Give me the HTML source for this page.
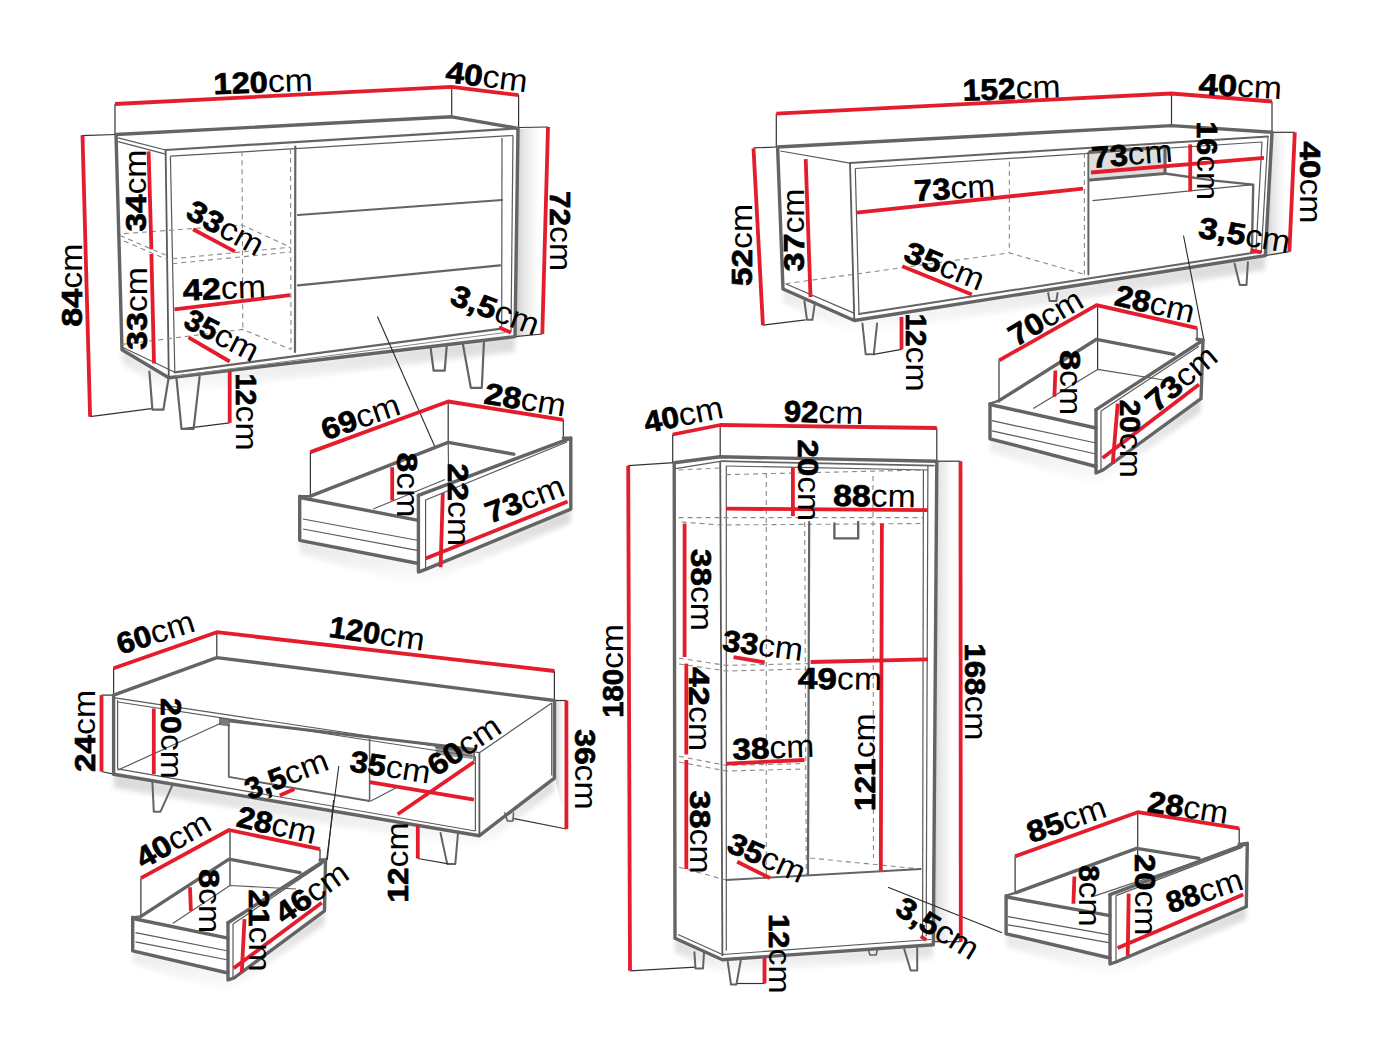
<!DOCTYPE html>
<html><head><meta charset="utf-8"><style>
html,body{margin:0;padding:0;background:#fff;}
svg{display:block;}
text{font-family:"Liberation Sans",sans-serif;fill:#000;}
</style></head><body>
<svg width="1394" height="1045" viewBox="0 0 1394 1045">
<defs><linearGradient id="sg" x1="0" y1="0" x2="1" y2="0"><stop offset="0" stop-color="#000" stop-opacity="1"/><stop offset="0.25" stop-color="#000" stop-opacity="0.45"/><stop offset="0.7" stop-color="#000" stop-opacity="0"/></linearGradient><linearGradient id="sv" x1="0" y1="0" x2="0" y2="1"><stop offset="0" stop-color="#000" stop-opacity="1"/><stop offset="1" stop-color="#000" stop-opacity="0"/></linearGradient><filter id="bl" x="-10%" y="-50%" width="120%" height="200%"><feGaussianBlur stdDeviation="2.5"/></filter></defs>
<polygon points="1090.0,152.0 1165.0,147.0 1165.0,173.5 1090.0,180.0" fill="#dedede"/>
<polygon points="219.0,717.5 230.0,719.0 230.0,726.5 219.0,725.0" fill="#7a7a7a"/>
<polygon points="435.8,747.5 472.6,752.0 472.6,759.0 435.8,754.5" fill="#9a9a9a"/>
<polygon points="518.5,129.0 548.0,127.0 542.3,334.0 515.0,336.6" fill="url(#sg)" opacity="0.22"/>
<polygon points="1272.5,133.0 1294.8,132.3 1289.4,251.6 1265.3,255.6" fill="url(#sg)" opacity="0.22"/>
<polygon points="937.5,462.0 960.5,461.2 960.8,941.7 932.0,941.7" fill="url(#sg)" opacity="0.22"/>
<polygon points="555.0,701.0 566.4,700.5 567.5,829.0 555.0,778.0" fill="url(#sg)" opacity="0.22"/>
<polygon points="122.0,350.0 168.8,378.0 515.0,337.0 515.0,352.0 168.8,394.0 122.0,364.0" fill="url(#sv)" opacity="0.16" filter="url(#bl)"/>
<polygon points="783.0,289.0 854.3,320.5 1265.3,255.6 1265.0,270.0 854.0,336.0 783.0,303.0" fill="url(#sv)" opacity="0.16" filter="url(#bl)"/>
<polygon points="675.4,939.0 722.4,960.0 933.3,945.0 933.0,959.0 722.0,975.0 675.0,953.0" fill="url(#sv)" opacity="0.16" filter="url(#bl)"/>
<polygon points="113.6,774.2 479.4,835.7 554.4,778.1 554.0,792.0 479.0,850.0 113.6,788.0" fill="url(#sv)" opacity="0.16" filter="url(#bl)"/>
<polygon points="299.7,540.3 418.4,563.5 418.4,572.1 570.8,509.1 570.8,523.0 418.0,587.0 299.7,554.0" fill="url(#sv)" opacity="0.16" filter="url(#bl)"/>
<polygon points="990.0,438.8 1096.0,466.5 1096.0,473.0 1201.0,398.6 1201.0,412.0 1096.0,487.0 990.0,452.0" fill="url(#sv)" opacity="0.16" filter="url(#bl)"/>
<polygon points="132.7,950.9 228.0,973.0 228.0,980.0 324.5,910.9 324.5,924.0 228.0,994.0 132.7,964.0" fill="url(#sv)" opacity="0.16" filter="url(#bl)"/>
<polygon points="1006.1,933.8 1110.0,958.0 1110.0,964.0 1246.3,906.7 1246.0,920.0 1110.0,978.0 1006.0,947.0" fill="url(#sv)" opacity="0.16" filter="url(#bl)"/>
<polyline points="115.0,104.0 115.0,134.5" fill="none" stroke="#333" stroke-width="1.2" stroke-linejoin="round"/>
<polyline points="451.7,87.0 451.7,117.0" fill="none" stroke="#333" stroke-width="1.2" stroke-linejoin="round"/>
<polyline points="518.6,95.0 518.6,128.0" fill="none" stroke="#333" stroke-width="1.2" stroke-linejoin="round"/>
<polyline points="81.5,135.6 116.0,134.5" fill="none" stroke="#333" stroke-width="1.2" stroke-linejoin="round"/>
<polyline points="518.6,127.5 548.0,127.0" fill="none" stroke="#333" stroke-width="1.2" stroke-linejoin="round"/>
<polyline points="542.3,334.0 515.0,336.6" fill="none" stroke="#333" stroke-width="1.2" stroke-linejoin="round"/>
<polyline points="90.1,416.7 151.4,408.7" fill="none" stroke="#333" stroke-width="1.2" stroke-linejoin="round"/>
<polyline points="181.5,428.8 229.7,422.8" fill="none" stroke="#333" stroke-width="1.2" stroke-linejoin="round"/>
<polyline points="116.0,134.5 451.7,116.8 518.0,128.3 515.0,336.6 168.8,377.7 122.0,349.7 116.0,134.5" fill="none" stroke="#646464" stroke-width="3.4" stroke-linejoin="round" stroke-linecap="round"/>
<polyline points="118.1,137.8 165.6,150.0" fill="none" stroke="#5a5a5a" stroke-width="1.2" stroke-linejoin="round"/>
<polyline points="118.1,141.6 165.6,154.2" fill="none" stroke="#5a5a5a" stroke-width="1.2" stroke-linejoin="round"/>
<polyline points="165.6,150.0 518.0,128.3" fill="none" stroke="#646464" stroke-width="2.2" stroke-linejoin="round" stroke-linecap="round"/>
<polyline points="170.4,156.2 513.0,135.5" fill="none" stroke="#5a5a5a" stroke-width="1.2" stroke-linejoin="round"/>
<polyline points="165.6,150.0 168.8,377.7" fill="none" stroke="#5a5a5a" stroke-width="1.8" stroke-linejoin="round"/>
<polyline points="170.4,156.2 174.8,372.3" fill="none" stroke="#5a5a5a" stroke-width="1.2" stroke-linejoin="round"/>
<polyline points="123.0,347.5 174.8,372.3" fill="none" stroke="#5a5a5a" stroke-width="1.2" stroke-linejoin="round"/>
<polyline points="174.8,372.3 501.7,328.6" fill="none" stroke="#646464" stroke-width="2.2" stroke-linejoin="round" stroke-linecap="round"/>
<polyline points="176.0,376.0 505.0,332.5" fill="none" stroke="#888" stroke-width="1.0" stroke-linejoin="round"/>
<polyline points="502.0,138.0 501.7,328.6" fill="none" stroke="#5a5a5a" stroke-width="1.2" stroke-linejoin="round"/>
<polyline points="513.0,135.5 511.0,332.0" fill="none" stroke="#5a5a5a" stroke-width="1.2" stroke-linejoin="round"/>
<polyline points="295.3,146.5 295.0,352.0" fill="none" stroke="#646464" stroke-width="2.2" stroke-linejoin="round" stroke-linecap="round"/>
<polyline points="242.0,151.3 242.8,330.4" fill="none" stroke="#8a8a8a" stroke-width="1.1" stroke-dasharray="5,4"/>
<polyline points="290.5,149.0 291.0,349.5" fill="none" stroke="#8a8a8a" stroke-width="1.1" stroke-dasharray="5,4"/>
<polyline points="120.0,235.6 165.6,255.0" fill="none" stroke="#8a8a8a" stroke-width="1.1" stroke-dasharray="5,4"/>
<polyline points="124.0,241.0 168.0,260.0" fill="none" stroke="#8a8a8a" stroke-width="1.1" stroke-dasharray="5,4"/>
<polyline points="124.0,233.6 242.0,225.0 290.5,247.2" fill="none" stroke="#8a8a8a" stroke-width="1.1" stroke-dasharray="5,4"/>
<polyline points="172.3,258.8 290.5,247.2" fill="none" stroke="#8a8a8a" stroke-width="1.1" stroke-dasharray="5,4"/>
<polyline points="172.3,263.7 290.5,252.0" fill="none" stroke="#8a8a8a" stroke-width="1.1" stroke-dasharray="5,4"/>
<polyline points="122.3,344.4 242.8,329.4 291.0,349.5" fill="none" stroke="#8a8a8a" stroke-width="1.1" stroke-dasharray="5,4"/>
<polyline points="298.0,215.0 502.0,200.0" fill="none" stroke="#646464" stroke-width="2.2" stroke-linejoin="round" stroke-linecap="round"/>
<polyline points="298.0,285.4 500.0,265.3" fill="none" stroke="#646464" stroke-width="2.2" stroke-linejoin="round" stroke-linecap="round"/>
<polyline points="149.4,371.6 152.4,409.7 163.4,409.7 168.5,378.6" fill="none" stroke="#646464" stroke-width="2.2" stroke-linejoin="round" stroke-linecap="round"/>
<polyline points="176.5,378.6 181.5,428.8 193.6,428.8 199.6,376.6" fill="none" stroke="#646464" stroke-width="2.2" stroke-linejoin="round" stroke-linecap="round"/>
<polyline points="430.6,347.6 433.6,370.7 444.7,370.7 446.7,346.6" fill="none" stroke="#646464" stroke-width="2.2" stroke-linejoin="round" stroke-linecap="round"/>
<polyline points="462.8,343.6 470.8,387.8 481.8,387.8 483.9,342.6" fill="none" stroke="#646464" stroke-width="2.2" stroke-linejoin="round" stroke-linecap="round"/>
<polyline points="377.4,316.5 435.0,447.0" fill="none" stroke="#2a2a2a" stroke-width="1.1"/>
<polyline points="310.4,452.0 310.4,496.2" fill="none" stroke="#333" stroke-width="1.2" stroke-linejoin="round"/>
<polyline points="448.2,401.5 448.2,442.4" fill="none" stroke="#333" stroke-width="1.2" stroke-linejoin="round"/>
<polyline points="448.2,442.4 449.0,500.0" fill="none" stroke="#5a5a5a" stroke-width="1.2" stroke-linejoin="round"/>
<polyline points="563.3,419.8 563.3,438.1" fill="none" stroke="#333" stroke-width="1.2" stroke-linejoin="round"/>
<polyline points="310.4,496.2 448.2,442.4 513.8,454.2" fill="none" stroke="#646464" stroke-width="3.4" stroke-linejoin="round" stroke-linecap="round"/>
<polyline points="299.7,496.2 310.4,496.2" fill="none" stroke="#646464" stroke-width="2.2" stroke-linejoin="round" stroke-linecap="round"/>
<polyline points="299.7,496.2 299.7,540.3 418.4,563.5" fill="none" stroke="#646464" stroke-width="3.4" stroke-linejoin="round" stroke-linecap="round"/>
<polyline points="300.0,497.5 418.4,520.4" fill="none" stroke="#646464" stroke-width="3.4" stroke-linejoin="round" stroke-linecap="round"/>
<polyline points="303.0,519.0 418.4,540.5" fill="none" stroke="#5a5a5a" stroke-width="1.2" stroke-linejoin="round"/>
<polyline points="303.0,529.0 418.4,550.6" fill="none" stroke="#5a5a5a" stroke-width="1.2" stroke-linejoin="round"/>
<polyline points="373.2,509.0 445.0,479.5" fill="none" stroke="#5a5a5a" stroke-width="1.2" stroke-linejoin="round"/>
<polyline points="418.4,495.3 418.4,572.1 425.6,569.4 570.8,509.1 570.8,438.1 563.3,438.1" fill="none" stroke="#646464" stroke-width="3.4" stroke-linejoin="round" stroke-linecap="round"/>
<polyline points="418.4,495.3 570.8,438.1" fill="none" stroke="#646464" stroke-width="3.4" stroke-linejoin="round" stroke-linecap="round"/>
<polyline points="425.6,500.0 425.6,569.4" fill="none" stroke="#5a5a5a" stroke-width="1.2" stroke-linejoin="round"/>
<polyline points="425.6,500.0 567.0,442.0" fill="none" stroke="#5a5a5a" stroke-width="1.2" stroke-linejoin="round"/>
<polyline points="776.3,113.6 776.3,147.0" fill="none" stroke="#333" stroke-width="1.2" stroke-linejoin="round"/>
<polyline points="1171.5,93.5 1171.5,125.6" fill="none" stroke="#333" stroke-width="1.2" stroke-linejoin="round"/>
<polyline points="1272.0,101.5 1272.0,132.3" fill="none" stroke="#333" stroke-width="1.2" stroke-linejoin="round"/>
<polyline points="753.5,147.9 777.6,147.0" fill="none" stroke="#333" stroke-width="1.2" stroke-linejoin="round"/>
<polyline points="1272.0,132.3 1294.8,132.3" fill="none" stroke="#333" stroke-width="1.2" stroke-linejoin="round"/>
<polyline points="1265.3,255.6 1289.4,251.6" fill="none" stroke="#333" stroke-width="1.2" stroke-linejoin="round"/>
<polyline points="762.9,325.2 805.7,319.8" fill="none" stroke="#333" stroke-width="1.2" stroke-linejoin="round"/>
<polyline points="777.6,147.0 1171.5,125.6 1272.0,132.3 1265.3,255.6 854.3,320.5 783.0,289.0 777.6,147.0" fill="none" stroke="#646464" stroke-width="3.4" stroke-linejoin="round" stroke-linecap="round"/>
<polyline points="780.3,151.0 850.0,163.1" fill="none" stroke="#5a5a5a" stroke-width="1.2" stroke-linejoin="round"/>
<polyline points="850.0,163.1 1268.0,136.4" fill="none" stroke="#646464" stroke-width="2.0" stroke-linejoin="round" stroke-linecap="round"/>
<polyline points="855.3,168.5 1262.0,142.0" fill="none" stroke="#5a5a5a" stroke-width="1.2" stroke-linejoin="round"/>
<polyline points="850.0,163.1 854.3,320.2" fill="none" stroke="#5a5a5a" stroke-width="1.8" stroke-linejoin="round"/>
<polyline points="855.3,168.5 859.0,314.0" fill="none" stroke="#5a5a5a" stroke-width="1.2" stroke-linejoin="round"/>
<polyline points="785.6,283.7 854.0,313.1" fill="none" stroke="#5a5a5a" stroke-width="1.2" stroke-linejoin="round"/>
<polyline points="859.0,314.0 1261.3,251.6" fill="none" stroke="#646464" stroke-width="2.0" stroke-linejoin="round" stroke-linecap="round"/>
<polyline points="1268.0,136.4 1261.3,252.9" fill="none" stroke="#5a5a5a" stroke-width="1.2" stroke-linejoin="round"/>
<polyline points="1262.0,142.0 1256.0,250.0" fill="none" stroke="#5a5a5a" stroke-width="1.2" stroke-linejoin="round"/>
<polyline points="785.6,283.7 1009.3,252.9 1084.4,274.4" fill="none" stroke="#8a8a8a" stroke-width="1.1" stroke-dasharray="5,4"/>
<polyline points="1009.4,161.8 1009.3,252.9" fill="none" stroke="#8a8a8a" stroke-width="1.1" stroke-dasharray="5,4"/>
<polyline points="1084.4,153.0 1084.4,274.4" fill="none" stroke="#8a8a8a" stroke-width="1.1" stroke-dasharray="5,4"/>
<polyline points="1088.4,152.4 1088.4,274.4" fill="none" stroke="#646464" stroke-width="2.0" stroke-linejoin="round" stroke-linecap="round"/>
<polyline points="1090.0,151.5 1165.0,147.0 1165.0,173.5 1090.0,180.0" fill="none" stroke="#646464" stroke-width="3.2" stroke-linejoin="round" stroke-linecap="round"/>
<polyline points="1165.0,173.5 1214.4,180.6 1253.2,184.6 1251.9,252.9" fill="none" stroke="#646464" stroke-width="2.4" stroke-linejoin="round" stroke-linecap="round"/>
<polyline points="1092.5,200.7 1253.2,184.6" fill="none" stroke="#5a5a5a" stroke-width="1.2" stroke-linejoin="round"/>
<polyline points="804.4,301.0 807.0,319.8 812.4,319.8 815.0,302.4" fill="none" stroke="#646464" stroke-width="2.0" stroke-linejoin="round" stroke-linecap="round"/>
<polyline points="862.4,323.4 865.7,354.3 873.8,354.3 877.1,323.4" fill="none" stroke="#646464" stroke-width="2.0" stroke-linejoin="round" stroke-linecap="round"/>
<polyline points="1234.5,263.6 1239.8,285.0 1246.5,285.0 1247.9,262.3" fill="none" stroke="#646464" stroke-width="2.0" stroke-linejoin="round" stroke-linecap="round"/>
<polyline points="1048.2,293.1 1049.6,301.0 1056.3,301.0 1057.6,293.1" fill="none" stroke="#646464" stroke-width="2.0" stroke-linejoin="round" stroke-linecap="round"/>
<polyline points="873.8,354.3 901.5,349.4" fill="none" stroke="#333" stroke-width="1.2" stroke-linejoin="round"/>
<polyline points="1183.5,235.5 1204.0,340.3" fill="none" stroke="#2a2a2a" stroke-width="1.1"/>
<polyline points="999.0,360.4 999.0,402.6" fill="none" stroke="#333" stroke-width="1.2" stroke-linejoin="round"/>
<polyline points="1097.6,305.1 1097.6,369.4" fill="none" stroke="#333" stroke-width="1.2" stroke-linejoin="round"/>
<polyline points="1197.1,328.2 1197.1,339.3" fill="none" stroke="#333" stroke-width="1.2" stroke-linejoin="round"/>
<polyline points="999.0,400.6 1096.6,339.3 1174.0,354.4" fill="none" stroke="#646464" stroke-width="3.4" stroke-linejoin="round" stroke-linecap="round"/>
<polyline points="990.0,403.6 999.0,400.6" fill="none" stroke="#646464" stroke-width="2.2" stroke-linejoin="round" stroke-linecap="round"/>
<polyline points="990.0,403.6 990.0,438.8 1096.0,466.5" fill="none" stroke="#646464" stroke-width="3.4" stroke-linejoin="round" stroke-linecap="round"/>
<polyline points="990.0,404.5 1096.0,428.0" fill="none" stroke="#646464" stroke-width="3.4" stroke-linejoin="round" stroke-linecap="round"/>
<polyline points="992.0,420.7 1096.0,443.0" fill="none" stroke="#5a5a5a" stroke-width="1.2" stroke-linejoin="round"/>
<polyline points="992.0,430.8 1096.0,454.0" fill="none" stroke="#5a5a5a" stroke-width="1.2" stroke-linejoin="round"/>
<polyline points="1033.3,408.6 1097.6,369.4 1173.0,381.5" fill="none" stroke="#5a5a5a" stroke-width="1.2" stroke-linejoin="round"/>
<polyline points="1096.0,409.6 1096.0,473.0 1103.0,470.0 1201.0,398.6 1203.0,340.3 1197.0,339.3" fill="none" stroke="#646464" stroke-width="3.4" stroke-linejoin="round" stroke-linecap="round"/>
<polyline points="1096.0,409.6 1203.0,340.3" fill="none" stroke="#646464" stroke-width="3.4" stroke-linejoin="round" stroke-linecap="round"/>
<polyline points="1101.0,411.0 1101.0,470.0" fill="none" stroke="#5a5a5a" stroke-width="1.2" stroke-linejoin="round"/>
<polyline points="1101.0,411.0 1199.0,346.3" fill="none" stroke="#5a5a5a" stroke-width="1.2" stroke-linejoin="round"/>
<polyline points="672.7,434.5 672.7,462.7" fill="none" stroke="#333" stroke-width="1.2" stroke-linejoin="round"/>
<polyline points="720.2,425.0 720.2,456.8" fill="none" stroke="#333" stroke-width="1.2" stroke-linejoin="round"/>
<polyline points="936.8,428.0 936.8,461.2" fill="none" stroke="#333" stroke-width="1.2" stroke-linejoin="round"/>
<polyline points="628.2,465.7 674.2,462.7" fill="none" stroke="#333" stroke-width="1.2" stroke-linejoin="round"/>
<polyline points="936.8,461.2 960.5,461.2" fill="none" stroke="#333" stroke-width="1.2" stroke-linejoin="round"/>
<polyline points="630.0,970.8 695.4,967.1" fill="none" stroke="#333" stroke-width="1.2" stroke-linejoin="round"/>
<polyline points="931.7,941.7 960.8,941.7" fill="none" stroke="#333" stroke-width="1.2" stroke-linejoin="round"/>
<polyline points="674.2,462.7 720.2,456.8 936.8,461.2 933.3,944.7 722.4,959.7 675.0,938.2 674.2,462.7" fill="none" stroke="#646464" stroke-width="3.4" stroke-linejoin="round" stroke-linecap="round"/>
<polyline points="675.7,468.6 721.7,461.2" fill="none" stroke="#5a5a5a" stroke-width="1.2" stroke-linejoin="round"/>
<polyline points="721.7,461.2 933.8,465.7" fill="none" stroke="#646464" stroke-width="1.8" stroke-linejoin="round" stroke-linecap="round"/>
<polyline points="726.0,466.0 928.0,470.0" fill="none" stroke="#5a5a5a" stroke-width="1.2" stroke-linejoin="round"/>
<polyline points="720.2,462.0 722.4,956.0" fill="none" stroke="#5a5a5a" stroke-width="1.8" stroke-linejoin="round"/>
<polyline points="726.3,466.0 726.3,950.8" fill="none" stroke="#5a5a5a" stroke-width="1.2" stroke-linejoin="round"/>
<polyline points="678.0,934.5 722.4,954.5 931.0,939.5" fill="none" stroke="#5a5a5a" stroke-width="1.2" stroke-linejoin="round"/>
<polyline points="927.9,466.0 926.2,936.2" fill="none" stroke="#5a5a5a" stroke-width="1.2" stroke-linejoin="round"/>
<polyline points="923.4,470.0 922.6,936.0" fill="none" stroke="#5a5a5a" stroke-width="1.2" stroke-linejoin="round"/>
<polyline points="678.6,470.0 720.0,468.0" fill="none" stroke="#8a8a8a" stroke-width="1.1" stroke-dasharray="5,4"/>
<polyline points="726.0,474.6 923.4,470.0" fill="none" stroke="#8a8a8a" stroke-width="1.1" stroke-dasharray="5,4"/>
<polyline points="678.6,517.6 923.4,517.6" fill="none" stroke="#8a8a8a" stroke-width="1.1" stroke-dasharray="5,4"/>
<polyline points="681.6,522.0 720.2,525.0 923.4,523.5" fill="none" stroke="#8a8a8a" stroke-width="1.1" stroke-dasharray="5,4"/>
<polyline points="766.3,473.0 766.3,874.5" fill="none" stroke="#8a8a8a" stroke-width="1.1" stroke-dasharray="5,4"/>
<polyline points="804.7,522.0 806.3,874.5" fill="none" stroke="#8a8a8a" stroke-width="1.1" stroke-dasharray="5,4"/>
<polyline points="873.0,476.0 873.5,858.0" fill="none" stroke="#8a8a8a" stroke-width="1.1" stroke-dasharray="5,4"/>
<polyline points="809.2,522.0 808.0,874.5" fill="none" stroke="#646464" stroke-width="2.2" stroke-linejoin="round" stroke-linecap="round"/>
<polyline points="834.4,523.5 834.4,538.4 858.2,538.4 858.2,522.0" fill="none" stroke="#646464" stroke-width="2.4" stroke-linejoin="round" stroke-linecap="round"/>
<polyline points="679.0,658.2 726.3,665.4 808.0,663.6" fill="none" stroke="#8a8a8a" stroke-width="1.1" stroke-dasharray="5,4"/>
<polyline points="679.0,664.0 726.3,671.0 808.0,669.0" fill="none" stroke="#8a8a8a" stroke-width="1.1" stroke-dasharray="5,4"/>
<polyline points="679.0,756.3 726.3,765.4 804.5,763.6" fill="none" stroke="#8a8a8a" stroke-width="1.1" stroke-dasharray="5,4"/>
<polyline points="679.0,762.0 726.3,771.0 804.5,769.0" fill="none" stroke="#8a8a8a" stroke-width="1.1" stroke-dasharray="5,4"/>
<polyline points="679.0,867.2 726.3,880.0" fill="none" stroke="#8a8a8a" stroke-width="1.1" stroke-dasharray="5,4"/>
<polyline points="810.0,858.0 920.0,869.0" fill="none" stroke="#8a8a8a" stroke-width="1.1" stroke-dasharray="5,4"/>
<polyline points="726.3,880.0 920.8,869.0" fill="none" stroke="#646464" stroke-width="1.8" stroke-linejoin="round" stroke-linecap="round"/>
<polyline points="694.4,952.2 695.5,968.4 703.0,968.4 704.0,953.0" fill="none" stroke="#646464" stroke-width="2.0" stroke-linejoin="round" stroke-linecap="round"/>
<polyline points="727.8,962.0 731.0,984.5 736.4,984.5 740.7,960.8" fill="none" stroke="#646464" stroke-width="2.0" stroke-linejoin="round" stroke-linecap="round"/>
<polyline points="868.0,949.0 870.0,955.0 876.0,955.0 878.0,948.0" fill="none" stroke="#646464" stroke-width="1.6" stroke-linejoin="round" stroke-linecap="round"/>
<polyline points="904.2,949.0 910.7,970.5 917.2,970.5 917.2,948.0" fill="none" stroke="#646464" stroke-width="2.0" stroke-linejoin="round" stroke-linecap="round"/>
<polyline points="737.2,983.5 764.5,983.5" fill="none" stroke="#333" stroke-width="1.2" stroke-linejoin="round"/>
<polyline points="888.0,887.2 1002.0,932.8" fill="none" stroke="#2a2a2a" stroke-width="1.1"/>
<polyline points="113.6,668.3 113.6,693.8" fill="none" stroke="#333" stroke-width="1.2" stroke-linejoin="round"/>
<polyline points="216.8,632.2 216.8,657.6" fill="none" stroke="#333" stroke-width="1.2" stroke-linejoin="round"/>
<polyline points="554.4,671.0 554.4,700.5" fill="none" stroke="#333" stroke-width="1.2" stroke-linejoin="round"/>
<polyline points="101.5,695.1 113.6,695.1" fill="none" stroke="#333" stroke-width="1.2" stroke-linejoin="round"/>
<polyline points="101.5,771.5 113.6,774.2" fill="none" stroke="#333" stroke-width="1.2" stroke-linejoin="round"/>
<polyline points="554.4,700.5 566.4,700.5" fill="none" stroke="#333" stroke-width="1.2" stroke-linejoin="round"/>
<polyline points="512.9,818.3 566.4,829.0" fill="none" stroke="#333" stroke-width="1.2" stroke-linejoin="round"/>
<polyline points="113.6,695.1 216.8,657.6 554.4,700.5 554.4,778.1 479.4,835.7 113.6,774.2 113.6,695.1" fill="none" stroke="#646464" stroke-width="3.4" stroke-linejoin="round" stroke-linecap="round"/>
<polyline points="117.6,700.0 117.6,768.8" fill="none" stroke="#5a5a5a" stroke-width="1.2" stroke-linejoin="round"/>
<polyline points="115.0,697.8 479.4,752.7 551.7,703.1" fill="none" stroke="#5a5a5a" stroke-width="1.2" stroke-linejoin="round"/>
<polyline points="118.0,702.0 475.4,756.5" fill="none" stroke="#5a5a5a" stroke-width="1.2" stroke-linejoin="round"/>
<polyline points="479.4,752.7 479.4,835.7" fill="none" stroke="#5a5a5a" stroke-width="1.8" stroke-linejoin="round"/>
<polyline points="475.4,756.5 475.4,831.0" fill="none" stroke="#5a5a5a" stroke-width="1.2" stroke-linejoin="round"/>
<polyline points="117.6,768.8 475.4,831.0" fill="none" stroke="#5a5a5a" stroke-width="1.2" stroke-linejoin="round"/>
<polyline points="551.7,703.1 551.7,775.5" fill="none" stroke="#5a5a5a" stroke-width="1.2" stroke-linejoin="round"/>
<polyline points="117.6,770.2 220.8,723.3" fill="none" stroke="#5a5a5a" stroke-width="1.2" stroke-linejoin="round"/>
<polyline points="230.0,721.0 475.3,749.5" fill="none" stroke="#646464" stroke-width="3.0" stroke-linejoin="round" stroke-linecap="round"/>
<polyline points="228.8,726.0 228.8,776.9 369.6,801.0" fill="none" stroke="#646464" stroke-width="1.8" stroke-linejoin="round" stroke-linecap="round"/>
<polyline points="369.6,739.3 369.6,801.0" fill="none" stroke="#646464" stroke-width="1.5" stroke-linejoin="round" stroke-linecap="round"/>
<polyline points="370.9,801.0 399.0,786.3" fill="none" stroke="#5a5a5a" stroke-width="1.2" stroke-linejoin="round"/>
<polyline points="435.8,747.5 474.0,752.0 474.0,760.7" fill="none" stroke="#646464" stroke-width="1.6" stroke-linejoin="round" stroke-linecap="round"/>
<polyline points="152.4,782.2 153.8,811.7 160.5,811.7 172.5,784.9" fill="none" stroke="#646464" stroke-width="2.0" stroke-linejoin="round" stroke-linecap="round"/>
<polyline points="440.5,833.0 447.2,863.9 455.3,863.9 458.0,833.0" fill="none" stroke="#646464" stroke-width="2.0" stroke-linejoin="round" stroke-linecap="round"/>
<polyline points="504.8,813.0 507.5,821.0 512.9,821.0 513.5,813.0" fill="none" stroke="#646464" stroke-width="1.6" stroke-linejoin="round" stroke-linecap="round"/>
<polyline points="417.8,858.5 448.6,863.9" fill="none" stroke="#333" stroke-width="1.2" stroke-linejoin="round"/>
<polyline points="338.8,766.0 323.9,880.0" fill="none" stroke="#2a2a2a" stroke-width="1.1"/>
<polyline points="140.9,878.2 140.9,916.4" fill="none" stroke="#333" stroke-width="1.2" stroke-linejoin="round"/>
<polyline points="230.0,830.0 230.0,885.5" fill="none" stroke="#333" stroke-width="1.2" stroke-linejoin="round"/>
<polyline points="320.0,849.1 320.0,860.0" fill="none" stroke="#333" stroke-width="1.2" stroke-linejoin="round"/>
<polyline points="140.9,916.4 229.1,859.1 300.0,872.7" fill="none" stroke="#646464" stroke-width="3.4" stroke-linejoin="round" stroke-linecap="round"/>
<polyline points="132.7,917.3 140.9,916.4" fill="none" stroke="#646464" stroke-width="2.2" stroke-linejoin="round" stroke-linecap="round"/>
<polyline points="132.7,917.3 132.7,950.9 228.0,973.0" fill="none" stroke="#646464" stroke-width="3.4" stroke-linejoin="round" stroke-linecap="round"/>
<polyline points="133.0,918.5 228.0,938.2" fill="none" stroke="#646464" stroke-width="3.4" stroke-linejoin="round" stroke-linecap="round"/>
<polyline points="135.5,932.7 228.0,951.0" fill="none" stroke="#5a5a5a" stroke-width="1.2" stroke-linejoin="round"/>
<polyline points="135.5,941.8 228.0,960.0" fill="none" stroke="#5a5a5a" stroke-width="1.2" stroke-linejoin="round"/>
<polyline points="172.7,923.6 230.0,885.5 296.0,889.0" fill="none" stroke="#5a5a5a" stroke-width="1.2" stroke-linejoin="round"/>
<polyline points="228.0,922.7 228.0,980.0 234.0,978.0 324.5,910.9 325.5,860.0 320.0,860.0" fill="none" stroke="#646464" stroke-width="3.4" stroke-linejoin="round" stroke-linecap="round"/>
<polyline points="228.0,922.7 325.5,860.0" fill="none" stroke="#646464" stroke-width="3.4" stroke-linejoin="round" stroke-linecap="round"/>
<polyline points="233.0,924.0 233.0,977.0" fill="none" stroke="#5a5a5a" stroke-width="1.2" stroke-linejoin="round"/>
<polyline points="233.0,924.0 322.0,864.0" fill="none" stroke="#5a5a5a" stroke-width="1.2" stroke-linejoin="round"/>
<polyline points="333.6,800.0 327.3,860.0" fill="none" stroke="#2a2a2a" stroke-width="1.1"/>
<polyline points="1015.1,856.4 1015.1,892.6" fill="none" stroke="#333" stroke-width="1.2" stroke-linejoin="round"/>
<polyline points="1137.7,812.2 1137.7,858.0" fill="none" stroke="#333" stroke-width="1.2" stroke-linejoin="round"/>
<polyline points="1239.2,828.3 1239.2,844.4" fill="none" stroke="#333" stroke-width="1.2" stroke-linejoin="round"/>
<polyline points="1016.1,892.6 1136.7,848.4 1199.0,858.4" fill="none" stroke="#646464" stroke-width="3.4" stroke-linejoin="round" stroke-linecap="round"/>
<polyline points="1006.1,895.6 1016.1,892.6" fill="none" stroke="#646464" stroke-width="2.2" stroke-linejoin="round" stroke-linecap="round"/>
<polyline points="1006.1,895.6 1006.1,933.8 1110.0,958.0" fill="none" stroke="#646464" stroke-width="3.4" stroke-linejoin="round" stroke-linecap="round"/>
<polyline points="1006.5,897.0 1110.0,915.7" fill="none" stroke="#646464" stroke-width="3.4" stroke-linejoin="round" stroke-linecap="round"/>
<polyline points="1008.0,916.7 1110.0,934.8" fill="none" stroke="#5a5a5a" stroke-width="1.2" stroke-linejoin="round"/>
<polyline points="1008.0,924.8 1110.0,942.9" fill="none" stroke="#5a5a5a" stroke-width="1.2" stroke-linejoin="round"/>
<polyline points="1092.5,896.6 1199.0,861.0" fill="none" stroke="#5a5a5a" stroke-width="1.2" stroke-linejoin="round"/>
<polyline points="1110.0,894.6 1110.0,964.0 1116.0,962.0 1246.3,906.7 1247.3,843.4 1239.2,844.4" fill="none" stroke="#646464" stroke-width="3.4" stroke-linejoin="round" stroke-linecap="round"/>
<polyline points="1110.0,894.6 1247.3,843.4" fill="none" stroke="#646464" stroke-width="3.4" stroke-linejoin="round" stroke-linecap="round"/>
<polyline points="1116.0,895.6 1116.0,962.0" fill="none" stroke="#5a5a5a" stroke-width="1.2" stroke-linejoin="round"/>
<polyline points="1116.0,895.6 1242.3,847.4" fill="none" stroke="#5a5a5a" stroke-width="1.2" stroke-linejoin="round"/>
<polyline points="115.0,104.0 451.5,86.8 518.6,95.2" fill="none" stroke="#e41d2d" stroke-width="3.8" stroke-linecap="butt" stroke-linejoin="round"/>
<polyline points="82.5,135.5 90.1,416.7" fill="none" stroke="#e41d2d" stroke-width="3.8" stroke-linecap="butt" stroke-linejoin="round"/>
<polyline points="548.0,127.0 542.3,334.0" fill="none" stroke="#e41d2d" stroke-width="3.8" stroke-linecap="butt" stroke-linejoin="round"/>
<polyline points="229.7,371.6 229.7,422.8" fill="none" stroke="#e41d2d" stroke-width="3.8" stroke-linecap="butt" stroke-linejoin="round"/>
<polyline points="148.6,151.4 151.4,249.4" fill="none" stroke="#e41d2d" stroke-width="3.8" stroke-linecap="butt" stroke-linejoin="round"/>
<polyline points="151.4,254.0 154.0,363.5" fill="none" stroke="#e41d2d" stroke-width="3.8" stroke-linecap="butt" stroke-linejoin="round"/>
<polyline points="174.5,309.3 290.0,295.2" fill="none" stroke="#e41d2d" stroke-width="3.8" stroke-linecap="butt" stroke-linejoin="round"/>
<polyline points="188.5,337.4 229.7,361.5" fill="none" stroke="#e41d2d" stroke-width="3.8" stroke-linecap="butt" stroke-linejoin="round"/>
<polyline points="193.0,229.2 235.0,251.6" fill="none" stroke="#e41d2d" stroke-width="3.8" stroke-linecap="butt" stroke-linejoin="round"/>
<polyline points="499.0,327.5 511.0,332.6" fill="none" stroke="#e41d2d" stroke-width="3.8" stroke-linecap="butt" stroke-linejoin="round"/>
<polyline points="310.4,452.1 448.2,401.5 563.3,419.8" fill="none" stroke="#e41d2d" stroke-width="3.8" stroke-linecap="butt" stroke-linejoin="round"/>
<polyline points="392.2,467.2 392.2,500.5" fill="none" stroke="#e41d2d" stroke-width="3.8" stroke-linecap="butt" stroke-linejoin="round"/>
<polyline points="442.8,493.0 440.6,567.2" fill="none" stroke="#e41d2d" stroke-width="3.8" stroke-linecap="butt" stroke-linejoin="round"/>
<polyline points="425.6,558.6 567.6,501.6" fill="none" stroke="#e41d2d" stroke-width="3.8" stroke-linecap="butt" stroke-linejoin="round"/>
<polyline points="776.3,113.6 1171.5,93.5 1272.0,101.5" fill="none" stroke="#e41d2d" stroke-width="3.8" stroke-linecap="butt" stroke-linejoin="round"/>
<polyline points="753.5,148.4 762.9,325.2" fill="none" stroke="#e41d2d" stroke-width="3.8" stroke-linecap="butt" stroke-linejoin="round"/>
<polyline points="1294.8,132.3 1289.4,251.6" fill="none" stroke="#e41d2d" stroke-width="3.8" stroke-linecap="butt" stroke-linejoin="round"/>
<polyline points="901.5,316.9 901.5,349.4" fill="none" stroke="#e41d2d" stroke-width="3.8" stroke-linecap="butt" stroke-linejoin="round"/>
<polyline points="805.7,159.1 810.5,297.0" fill="none" stroke="#e41d2d" stroke-width="3.8" stroke-linecap="butt" stroke-linejoin="round"/>
<polyline points="856.6,212.7 1083.0,188.6" fill="none" stroke="#e41d2d" stroke-width="3.8" stroke-linecap="butt" stroke-linejoin="round"/>
<polyline points="902.2,266.3 971.8,294.4" fill="none" stroke="#e41d2d" stroke-width="3.8" stroke-linecap="butt" stroke-linejoin="round"/>
<polyline points="1091.0,172.5 1264.0,157.8" fill="none" stroke="#e41d2d" stroke-width="3.8" stroke-linecap="butt" stroke-linejoin="round"/>
<polyline points="1190.2,144.4 1190.2,191.3" fill="none" stroke="#e41d2d" stroke-width="3.8" stroke-linecap="butt" stroke-linejoin="round"/>
<polyline points="1250.5,250.2 1261.3,252.4" fill="none" stroke="#e41d2d" stroke-width="3.8" stroke-linecap="butt" stroke-linejoin="round"/>
<polyline points="999.1,360.4 1096.6,305.1 1197.1,328.2" fill="none" stroke="#e41d2d" stroke-width="3.8" stroke-linecap="butt" stroke-linejoin="round"/>
<polyline points="1055.4,370.5 1054.4,396.6" fill="none" stroke="#e41d2d" stroke-width="3.8" stroke-linecap="butt" stroke-linejoin="round"/>
<polyline points="1117.7,403.6 1112.7,463.9" fill="none" stroke="#e41d2d" stroke-width="3.8" stroke-linecap="butt" stroke-linejoin="round"/>
<polyline points="1102.6,457.9 1199.0,384.5" fill="none" stroke="#e41d2d" stroke-width="3.8" stroke-linecap="butt" stroke-linejoin="round"/>
<polyline points="672.7,434.5 720.2,425.0 936.8,428.0" fill="none" stroke="#e41d2d" stroke-width="3.8" stroke-linecap="butt" stroke-linejoin="round"/>
<polyline points="628.2,465.7 630.0,970.8" fill="none" stroke="#e41d2d" stroke-width="3.8" stroke-linecap="butt" stroke-linejoin="round"/>
<polyline points="960.5,461.2 960.8,941.7" fill="none" stroke="#e41d2d" stroke-width="3.8" stroke-linecap="butt" stroke-linejoin="round"/>
<polyline points="792.9,467.2 792.9,516.1" fill="none" stroke="#e41d2d" stroke-width="3.8" stroke-linecap="butt" stroke-linejoin="round"/>
<polyline points="726.1,508.7 927.9,510.2" fill="none" stroke="#e41d2d" stroke-width="3.8" stroke-linecap="butt" stroke-linejoin="round"/>
<polyline points="684.6,523.5 684.6,657.1" fill="none" stroke="#e41d2d" stroke-width="3.8" stroke-linecap="butt" stroke-linejoin="round"/>
<polyline points="686.3,663.6 686.3,754.5" fill="none" stroke="#e41d2d" stroke-width="3.8" stroke-linecap="butt" stroke-linejoin="round"/>
<polyline points="686.3,760.0 686.3,869.0" fill="none" stroke="#e41d2d" stroke-width="3.8" stroke-linecap="butt" stroke-linejoin="round"/>
<polyline points="881.9,523.5 880.8,870.8" fill="none" stroke="#e41d2d" stroke-width="3.8" stroke-linecap="butt" stroke-linejoin="round"/>
<polyline points="810.7,662.0 928.0,659.3" fill="none" stroke="#e41d2d" stroke-width="3.8" stroke-linecap="butt" stroke-linejoin="round"/>
<polyline points="733.5,657.1 764.7,662.4" fill="none" stroke="#e41d2d" stroke-width="3.8" stroke-linecap="butt" stroke-linejoin="round"/>
<polyline points="726.3,763.6 804.5,760.0" fill="none" stroke="#e41d2d" stroke-width="3.8" stroke-linecap="butt" stroke-linejoin="round"/>
<polyline points="737.2,861.7 770.0,878.0" fill="none" stroke="#e41d2d" stroke-width="3.8" stroke-linecap="butt" stroke-linejoin="round"/>
<polyline points="764.5,958.0 764.5,983.5" fill="none" stroke="#e41d2d" stroke-width="3.8" stroke-linecap="butt" stroke-linejoin="round"/>
<polyline points="920.8,936.2 926.2,940.0" fill="none" stroke="#e41d2d" stroke-width="3.8" stroke-linecap="butt" stroke-linejoin="round"/>
<polyline points="113.6,668.3 216.8,632.2 554.4,671.0" fill="none" stroke="#e41d2d" stroke-width="3.8" stroke-linecap="butt" stroke-linejoin="round"/>
<polyline points="101.5,695.1 101.5,771.5" fill="none" stroke="#e41d2d" stroke-width="3.8" stroke-linecap="butt" stroke-linejoin="round"/>
<polyline points="566.4,700.5 566.4,829.0" fill="none" stroke="#e41d2d" stroke-width="3.8" stroke-linecap="butt" stroke-linejoin="round"/>
<polyline points="417.8,825.0 417.8,858.5" fill="none" stroke="#e41d2d" stroke-width="3.8" stroke-linecap="butt" stroke-linejoin="round"/>
<polyline points="153.8,708.5 153.8,774.2" fill="none" stroke="#e41d2d" stroke-width="3.8" stroke-linecap="butt" stroke-linejoin="round"/>
<polyline points="279.7,795.6 294.5,788.9" fill="none" stroke="#e41d2d" stroke-width="3.8" stroke-linecap="butt" stroke-linejoin="round"/>
<polyline points="369.6,782.2 474.0,799.6" fill="none" stroke="#e41d2d" stroke-width="3.8" stroke-linecap="butt" stroke-linejoin="round"/>
<polyline points="397.7,814.3 474.0,762.0" fill="none" stroke="#e41d2d" stroke-width="3.8" stroke-linecap="butt" stroke-linejoin="round"/>
<polyline points="140.9,878.2 229.1,830.0 320.0,849.1" fill="none" stroke="#e41d2d" stroke-width="3.8" stroke-linecap="butt" stroke-linejoin="round"/>
<polyline points="190.0,887.3 190.9,910.9" fill="none" stroke="#e41d2d" stroke-width="3.8" stroke-linecap="butt" stroke-linejoin="round"/>
<polyline points="244.5,919.1 241.8,972.7" fill="none" stroke="#e41d2d" stroke-width="3.8" stroke-linecap="butt" stroke-linejoin="round"/>
<polyline points="233.6,968.2 321.8,902.7" fill="none" stroke="#e41d2d" stroke-width="3.8" stroke-linecap="butt" stroke-linejoin="round"/>
<polyline points="1015.1,856.4 1137.7,812.2 1239.2,828.3" fill="none" stroke="#e41d2d" stroke-width="3.8" stroke-linecap="butt" stroke-linejoin="round"/>
<polyline points="1074.4,876.5 1073.4,903.7" fill="none" stroke="#e41d2d" stroke-width="3.8" stroke-linecap="butt" stroke-linejoin="round"/>
<polyline points="1128.7,893.6 1127.7,955.9" fill="none" stroke="#e41d2d" stroke-width="3.8" stroke-linecap="butt" stroke-linejoin="round"/>
<polyline points="1117.6,947.9 1243.3,894.6" fill="none" stroke="#e41d2d" stroke-width="3.8" stroke-linecap="butt" stroke-linejoin="round"/>
<g transform="translate(263.2,83.2) rotate(-2)"><text x="-49.7" y="9.3" font-size="30" font-weight="bold" stroke="#000" stroke-width="0.7" textLength="54.4" lengthAdjust="spacingAndGlyphs">120</text><text x="4.7" y="9.3" font-size="32" textLength="45.0" lengthAdjust="spacingAndGlyphs">cm</text></g>
<g transform="translate(486.6,77.8) rotate(7.3)"><text x="-41.1" y="9.3" font-size="30" font-weight="bold" stroke="#000" stroke-width="0.7" textLength="37.2" lengthAdjust="spacingAndGlyphs">40</text><text x="-3.9" y="9.3" font-size="32" textLength="45.0" lengthAdjust="spacingAndGlyphs">cm</text></g>
<g transform="translate(72.8,285.2) rotate(-90)"><text x="-41.5" y="9.3" font-size="30" font-weight="bold" stroke="#000" stroke-width="0.7" textLength="38.0" lengthAdjust="spacingAndGlyphs">84</text><text x="-3.5" y="9.3" font-size="32" textLength="45.0" lengthAdjust="spacingAndGlyphs">cm</text></g>
<g transform="translate(137.1,190.6) rotate(-90)"><text x="-41.0" y="9.3" font-size="30" font-weight="bold" stroke="#000" stroke-width="0.7" textLength="37.0" lengthAdjust="spacingAndGlyphs">34</text><text x="-4.0" y="9.3" font-size="32" textLength="45.0" lengthAdjust="spacingAndGlyphs">cm</text></g>
<g transform="translate(137.7,308.6) rotate(-90)"><text x="-41.4" y="9.3" font-size="30" font-weight="bold" stroke="#000" stroke-width="0.7" textLength="37.8" lengthAdjust="spacingAndGlyphs">33</text><text x="-3.6" y="9.3" font-size="32" textLength="45.0" lengthAdjust="spacingAndGlyphs">cm</text></g>
<g transform="translate(224.8,228.7) rotate(28.9)"><text x="-41.1" y="9.3" font-size="30" font-weight="bold" stroke="#000" stroke-width="0.7" textLength="37.2" lengthAdjust="spacingAndGlyphs">33</text><text x="-3.9" y="9.3" font-size="32" textLength="45.0" lengthAdjust="spacingAndGlyphs">cm</text></g>
<g transform="translate(224.4,289.6) rotate(-2.3)"><text x="-41.5" y="9.3" font-size="30" font-weight="bold" stroke="#000" stroke-width="0.7" textLength="38.0" lengthAdjust="spacingAndGlyphs">42</text><text x="-3.5" y="9.3" font-size="32" textLength="45.0" lengthAdjust="spacingAndGlyphs">cm</text></g>
<g transform="translate(221.3,336.2) rotate(27.4)"><text x="-39.4" y="9.3" font-size="30" font-weight="bold" stroke="#000" stroke-width="0.7" textLength="33.8" lengthAdjust="spacingAndGlyphs">35</text><text x="-5.6" y="9.3" font-size="32" textLength="45.0" lengthAdjust="spacingAndGlyphs">cm</text></g>
<g transform="translate(245.0,412.0) rotate(90)"><text x="-38.5" y="9.3" font-size="30" font-weight="bold" stroke="#000" stroke-width="0.7" textLength="32.0" lengthAdjust="spacingAndGlyphs">12</text><text x="-6.5" y="9.3" font-size="32" textLength="45.0" lengthAdjust="spacingAndGlyphs">cm</text></g>
<g transform="translate(559.2,231.0) rotate(90)"><text x="-40.0" y="9.3" font-size="30" font-weight="bold" stroke="#000" stroke-width="0.7" textLength="35.0" lengthAdjust="spacingAndGlyphs">72</text><text x="-5.0" y="9.3" font-size="32" textLength="45.0" lengthAdjust="spacingAndGlyphs">cm</text></g>
<g transform="translate(494.7,311.0) rotate(20.8)"><text x="-45.9" y="9.3" font-size="30" font-weight="bold" stroke="#000" stroke-width="0.7" textLength="46.7" lengthAdjust="spacingAndGlyphs">3,5</text><text x="0.9" y="9.3" font-size="32" textLength="45.0" lengthAdjust="spacingAndGlyphs">cm</text></g>
<g transform="translate(360.8,418.4) rotate(-19.2)"><text x="-40.6" y="9.3" font-size="30" font-weight="bold" stroke="#000" stroke-width="0.7" textLength="36.2" lengthAdjust="spacingAndGlyphs">69</text><text x="-4.4" y="9.3" font-size="32" textLength="45.0" lengthAdjust="spacingAndGlyphs">cm</text></g>
<g transform="translate(525.0,400.8) rotate(9.5)"><text x="-41.0" y="9.3" font-size="30" font-weight="bold" stroke="#000" stroke-width="0.7" textLength="37.1" lengthAdjust="spacingAndGlyphs">28</text><text x="-4.0" y="9.3" font-size="32" textLength="45.0" lengthAdjust="spacingAndGlyphs">cm</text></g>
<g transform="translate(406.4,484.9) rotate(90)"><text x="-32.4" y="9.3" font-size="30" font-weight="bold" stroke="#000" stroke-width="0.7" textLength="19.7" lengthAdjust="spacingAndGlyphs">8</text><text x="-12.6" y="9.3" font-size="32" textLength="45.0" lengthAdjust="spacingAndGlyphs">cm</text></g>
<g transform="translate(457.4,504.8) rotate(90)"><text x="-41.2" y="9.3" font-size="30" font-weight="bold" stroke="#000" stroke-width="0.7" textLength="37.5" lengthAdjust="spacingAndGlyphs">22</text><text x="-3.8" y="9.3" font-size="32" textLength="45.0" lengthAdjust="spacingAndGlyphs">cm</text></g>
<g transform="translate(525.0,500.5) rotate(-20.6)"><text x="-41.1" y="9.3" font-size="30" font-weight="bold" stroke="#000" stroke-width="0.7" textLength="37.2" lengthAdjust="spacingAndGlyphs">73</text><text x="-3.9" y="9.3" font-size="32" textLength="45.0" lengthAdjust="spacingAndGlyphs">cm</text></g>
<g transform="translate(1011.6,89.7) rotate(-2.1)"><text x="-49.0" y="9.3" font-size="30" font-weight="bold" stroke="#000" stroke-width="0.7" textLength="53.0" lengthAdjust="spacingAndGlyphs">152</text><text x="4.0" y="9.3" font-size="32" textLength="45.0" lengthAdjust="spacingAndGlyphs">cm</text></g>
<g transform="translate(1240.4,87.4) rotate(3.4)"><text x="-41.6" y="9.3" font-size="30" font-weight="bold" stroke="#000" stroke-width="0.7" textLength="38.3" lengthAdjust="spacingAndGlyphs">40</text><text x="-3.4" y="9.3" font-size="32" textLength="45.0" lengthAdjust="spacingAndGlyphs">cm</text></g>
<g transform="translate(954.8,189.4) rotate(-3.5)"><text x="-40.6" y="9.3" font-size="30" font-weight="bold" stroke="#000" stroke-width="0.7" textLength="36.2" lengthAdjust="spacingAndGlyphs">73</text><text x="-4.4" y="9.3" font-size="32" textLength="45.0" lengthAdjust="spacingAndGlyphs">cm</text></g>
<g transform="translate(743.1,245.0) rotate(-90)"><text x="-41.0" y="9.3" font-size="30" font-weight="bold" stroke="#000" stroke-width="0.7" textLength="37.0" lengthAdjust="spacingAndGlyphs">52</text><text x="-4.0" y="9.3" font-size="32" textLength="45.0" lengthAdjust="spacingAndGlyphs">cm</text></g>
<g transform="translate(794.8,230.1) rotate(-90)"><text x="-41.5" y="9.3" font-size="30" font-weight="bold" stroke="#000" stroke-width="0.7" textLength="38.0" lengthAdjust="spacingAndGlyphs">37</text><text x="-3.5" y="9.3" font-size="32" textLength="45.0" lengthAdjust="spacingAndGlyphs">cm</text></g>
<g transform="translate(944.0,266.9) rotate(22.1)"><text x="-41.5" y="9.3" font-size="30" font-weight="bold" stroke="#000" stroke-width="0.7" textLength="38.0" lengthAdjust="spacingAndGlyphs">35</text><text x="-3.5" y="9.3" font-size="32" textLength="45.0" lengthAdjust="spacingAndGlyphs">cm</text></g>
<g transform="translate(1132.1,155.4) rotate(-4.5)"><text x="-40.7" y="9.3" font-size="30" font-weight="bold" stroke="#000" stroke-width="0.7" textLength="36.4" lengthAdjust="spacingAndGlyphs">73</text><text x="-4.3" y="9.3" font-size="32" textLength="45.0" lengthAdjust="spacingAndGlyphs">cm</text></g>
<g transform="translate(1206.2,160.8) rotate(90)"><text x="-39.4" y="9.3" font-size="30" font-weight="bold" stroke="#000" stroke-width="0.7" textLength="33.7" lengthAdjust="spacingAndGlyphs">16</text><text x="-5.6" y="9.3" font-size="32" textLength="45.0" lengthAdjust="spacingAndGlyphs">cm</text></g>
<g transform="translate(1309.0,182.4) rotate(90)"><text x="-41.0" y="9.3" font-size="30" font-weight="bold" stroke="#000" stroke-width="0.7" textLength="37.1" lengthAdjust="spacingAndGlyphs">40</text><text x="-4.0" y="9.3" font-size="32" textLength="45.0" lengthAdjust="spacingAndGlyphs">cm</text></g>
<g transform="translate(1244.4,236.0) rotate(9.8)"><text x="-46.2" y="9.3" font-size="30" font-weight="bold" stroke="#000" stroke-width="0.7" textLength="47.4" lengthAdjust="spacingAndGlyphs">3,5</text><text x="1.2" y="9.3" font-size="32" textLength="45.0" lengthAdjust="spacingAndGlyphs">cm</text></g>
<g transform="translate(915.1,352.5) rotate(90)"><text x="-39.0" y="9.3" font-size="30" font-weight="bold" stroke="#000" stroke-width="0.7" textLength="33.0" lengthAdjust="spacingAndGlyphs">12</text><text x="-6.0" y="9.3" font-size="32" textLength="45.0" lengthAdjust="spacingAndGlyphs">cm</text></g>
<g transform="translate(1046.2,318.4) rotate(-30.4)"><text x="-40.5" y="9.3" font-size="30" font-weight="bold" stroke="#000" stroke-width="0.7" textLength="36.0" lengthAdjust="spacingAndGlyphs">70</text><text x="-4.5" y="9.3" font-size="32" textLength="45.0" lengthAdjust="spacingAndGlyphs">cm</text></g>
<g transform="translate(1154.6,304.8) rotate(13.1)"><text x="-40.4" y="9.3" font-size="30" font-weight="bold" stroke="#000" stroke-width="0.7" textLength="35.8" lengthAdjust="spacingAndGlyphs">28</text><text x="-4.6" y="9.3" font-size="32" textLength="45.0" lengthAdjust="spacingAndGlyphs">cm</text></g>
<g transform="translate(1069.4,382.5) rotate(90)"><text x="-32.6" y="9.3" font-size="30" font-weight="bold" stroke="#000" stroke-width="0.7" textLength="20.3" lengthAdjust="spacingAndGlyphs">8</text><text x="-12.4" y="9.3" font-size="32" textLength="45.0" lengthAdjust="spacingAndGlyphs">cm</text></g>
<g transform="translate(1129.7,438.8) rotate(90)"><text x="-39.0" y="9.3" font-size="30" font-weight="bold" stroke="#000" stroke-width="0.7" textLength="33.0" lengthAdjust="spacingAndGlyphs">20</text><text x="-6.0" y="9.3" font-size="32" textLength="45.0" lengthAdjust="spacingAndGlyphs">cm</text></g>
<g transform="translate(1182.0,379.5) rotate(-40.1)"><text x="-41.4" y="9.3" font-size="30" font-weight="bold" stroke="#000" stroke-width="0.7" textLength="37.7" lengthAdjust="spacingAndGlyphs">73</text><text x="-3.6" y="9.3" font-size="32" textLength="45.0" lengthAdjust="spacingAndGlyphs">cm</text></g>
<g transform="translate(683.7,416.1) rotate(-11.2)"><text x="-40.1" y="9.3" font-size="30" font-weight="bold" stroke="#000" stroke-width="0.7" textLength="35.2" lengthAdjust="spacingAndGlyphs">40</text><text x="-4.9" y="9.3" font-size="32" textLength="45.0" lengthAdjust="spacingAndGlyphs">cm</text></g>
<g transform="translate(823.6,413.6) rotate(2)"><text x="-39.8" y="9.3" font-size="30" font-weight="bold" stroke="#000" stroke-width="0.7" textLength="34.6" lengthAdjust="spacingAndGlyphs">92</text><text x="-5.2" y="9.3" font-size="32" textLength="45.0" lengthAdjust="spacingAndGlyphs">cm</text></g>
<g transform="translate(807.4,480.4) rotate(90)"><text x="-40.8" y="9.3" font-size="30" font-weight="bold" stroke="#000" stroke-width="0.7" textLength="36.6" lengthAdjust="spacingAndGlyphs">20</text><text x="-4.2" y="9.3" font-size="32" textLength="45.0" lengthAdjust="spacingAndGlyphs">cm</text></g>
<g transform="translate(874.4,497.2) rotate(1)"><text x="-41.3" y="9.3" font-size="30" font-weight="bold" stroke="#000" stroke-width="0.7" textLength="37.6" lengthAdjust="spacingAndGlyphs">88</text><text x="-3.7" y="9.3" font-size="32" textLength="45.0" lengthAdjust="spacingAndGlyphs">cm</text></g>
<g transform="translate(699.9,590.0) rotate(90)"><text x="-40.9" y="9.3" font-size="30" font-weight="bold" stroke="#000" stroke-width="0.7" textLength="36.7" lengthAdjust="spacingAndGlyphs">38</text><text x="-4.1" y="9.3" font-size="32" textLength="45.0" lengthAdjust="spacingAndGlyphs">cm</text></g>
<g transform="translate(762.8,646.5) rotate(7.5)"><text x="-40.5" y="9.3" font-size="30" font-weight="bold" stroke="#000" stroke-width="0.7" textLength="36.0" lengthAdjust="spacingAndGlyphs">33</text><text x="-4.5" y="9.3" font-size="32" textLength="45.0" lengthAdjust="spacingAndGlyphs">cm</text></g>
<g transform="translate(840.0,680.0) rotate(1)"><text x="-42.0" y="9.3" font-size="30" font-weight="bold" stroke="#000" stroke-width="0.7" textLength="39.0" lengthAdjust="spacingAndGlyphs">49</text><text x="-3.0" y="9.3" font-size="32" textLength="45.0" lengthAdjust="spacingAndGlyphs">cm</text></g>
<g transform="translate(974.6,692.0) rotate(90)"><text x="-48.4" y="9.3" font-size="30" font-weight="bold" stroke="#000" stroke-width="0.7" textLength="51.7" lengthAdjust="spacingAndGlyphs">168</text><text x="3.4" y="9.3" font-size="32" textLength="45.0" lengthAdjust="spacingAndGlyphs">cm</text></g>
<g transform="translate(613.7,670.9) rotate(-90)"><text x="-46.9" y="9.3" font-size="30" font-weight="bold" stroke="#000" stroke-width="0.7" textLength="48.8" lengthAdjust="spacingAndGlyphs">180</text><text x="1.9" y="9.3" font-size="32" textLength="45.0" lengthAdjust="spacingAndGlyphs">cm</text></g>
<g transform="translate(698.0,709.1) rotate(90)"><text x="-41.9" y="9.3" font-size="30" font-weight="bold" stroke="#000" stroke-width="0.7" textLength="38.7" lengthAdjust="spacingAndGlyphs">42</text><text x="-3.1" y="9.3" font-size="32" textLength="45.0" lengthAdjust="spacingAndGlyphs">cm</text></g>
<g transform="translate(773.3,749.0) rotate(-2)"><text x="-41.0" y="9.3" font-size="30" font-weight="bold" stroke="#000" stroke-width="0.7" textLength="37.1" lengthAdjust="spacingAndGlyphs">38</text><text x="-4.0" y="9.3" font-size="32" textLength="45.0" lengthAdjust="spacingAndGlyphs">cm</text></g>
<g transform="translate(698.9,832.1) rotate(90)"><text x="-41.5" y="9.3" font-size="30" font-weight="bold" stroke="#000" stroke-width="0.7" textLength="37.9" lengthAdjust="spacingAndGlyphs">38</text><text x="-3.5" y="9.3" font-size="32" textLength="45.0" lengthAdjust="spacingAndGlyphs">cm</text></g>
<g transform="translate(865.6,762.2) rotate(-90)"><text x="-48.9" y="9.3" font-size="30" font-weight="bold" stroke="#000" stroke-width="0.7" textLength="52.7" lengthAdjust="spacingAndGlyphs">121</text><text x="3.9" y="9.3" font-size="32" textLength="45.0" lengthAdjust="spacingAndGlyphs">cm</text></g>
<g transform="translate(766.2,858.7) rotate(23.9)"><text x="-40.7" y="9.3" font-size="30" font-weight="bold" stroke="#000" stroke-width="0.7" textLength="36.4" lengthAdjust="spacingAndGlyphs">35</text><text x="-4.3" y="9.3" font-size="32" textLength="45.0" lengthAdjust="spacingAndGlyphs">cm</text></g>
<g transform="translate(777.9,953.8) rotate(90)"><text x="-39.7" y="9.3" font-size="30" font-weight="bold" stroke="#000" stroke-width="0.7" textLength="34.4" lengthAdjust="spacingAndGlyphs">12</text><text x="-5.3" y="9.3" font-size="32" textLength="45.0" lengthAdjust="spacingAndGlyphs">cm</text></g>
<g transform="translate(937.0,929.0) rotate(31.8)"><text x="-45.5" y="9.3" font-size="30" font-weight="bold" stroke="#000" stroke-width="0.7" textLength="46.0" lengthAdjust="spacingAndGlyphs">3,5</text><text x="0.5" y="9.3" font-size="32" textLength="45.0" lengthAdjust="spacingAndGlyphs">cm</text></g>
<g transform="translate(155.9,633.9) rotate(-17.6)"><text x="-40.0" y="9.3" font-size="30" font-weight="bold" stroke="#000" stroke-width="0.7" textLength="34.9" lengthAdjust="spacingAndGlyphs">60</text><text x="-5.0" y="9.3" font-size="32" textLength="45.0" lengthAdjust="spacingAndGlyphs">cm</text></g>
<g transform="translate(376.9,634.5) rotate(8.4)"><text x="-48.1" y="9.3" font-size="30" font-weight="bold" stroke="#000" stroke-width="0.7" textLength="51.2" lengthAdjust="spacingAndGlyphs">120</text><text x="3.1" y="9.3" font-size="32" textLength="45.0" lengthAdjust="spacingAndGlyphs">cm</text></g>
<g transform="translate(85.5,731.0) rotate(-90)"><text x="-41.0" y="9.3" font-size="30" font-weight="bold" stroke="#000" stroke-width="0.7" textLength="37.1" lengthAdjust="spacingAndGlyphs">24</text><text x="-4.0" y="9.3" font-size="32" textLength="45.0" lengthAdjust="spacingAndGlyphs">cm</text></g>
<g transform="translate(170.4,738.5) rotate(90)"><text x="-40.4" y="9.3" font-size="30" font-weight="bold" stroke="#000" stroke-width="0.7" textLength="35.8" lengthAdjust="spacingAndGlyphs">20</text><text x="-4.6" y="9.3" font-size="32" textLength="45.0" lengthAdjust="spacingAndGlyphs">cm</text></g>
<g transform="translate(286.8,775.9) rotate(-20.9)"><text x="-43.5" y="9.3" font-size="30" font-weight="bold" stroke="#000" stroke-width="0.7" textLength="42.0" lengthAdjust="spacingAndGlyphs">3,5</text><text x="-1.5" y="9.3" font-size="32" textLength="45.0" lengthAdjust="spacingAndGlyphs">cm</text></g>
<g transform="translate(584.3,769.4) rotate(90)"><text x="-40.2" y="9.3" font-size="30" font-weight="bold" stroke="#000" stroke-width="0.7" textLength="35.5" lengthAdjust="spacingAndGlyphs">36</text><text x="-4.8" y="9.3" font-size="32" textLength="45.0" lengthAdjust="spacingAndGlyphs">cm</text></g>
<g transform="translate(390.3,768.1) rotate(9)"><text x="-40.5" y="9.3" font-size="30" font-weight="bold" stroke="#000" stroke-width="0.7" textLength="36.0" lengthAdjust="spacingAndGlyphs">35</text><text x="-4.5" y="9.3" font-size="32" textLength="45.0" lengthAdjust="spacingAndGlyphs">cm</text></g>
<g transform="translate(464.7,746.7) rotate(-34)"><text x="-40.5" y="9.3" font-size="30" font-weight="bold" stroke="#000" stroke-width="0.7" textLength="36.0" lengthAdjust="spacingAndGlyphs">60</text><text x="-4.5" y="9.3" font-size="32" textLength="45.0" lengthAdjust="spacingAndGlyphs">cm</text></g>
<g transform="translate(398.6,862.5) rotate(-90)"><text x="-40.0" y="9.3" font-size="30" font-weight="bold" stroke="#000" stroke-width="0.7" textLength="35.0" lengthAdjust="spacingAndGlyphs">12</text><text x="-5.0" y="9.3" font-size="32" textLength="45.0" lengthAdjust="spacingAndGlyphs">cm</text></g>
<g transform="translate(173.8,841.2) rotate(-30.1)"><text x="-40.6" y="9.3" font-size="30" font-weight="bold" stroke="#000" stroke-width="0.7" textLength="36.3" lengthAdjust="spacingAndGlyphs">40</text><text x="-4.4" y="9.3" font-size="32" textLength="45.0" lengthAdjust="spacingAndGlyphs">cm</text></g>
<g transform="translate(276.5,826.0) rotate(13.2)"><text x="-40.2" y="9.3" font-size="30" font-weight="bold" stroke="#000" stroke-width="0.7" textLength="35.5" lengthAdjust="spacingAndGlyphs">28</text><text x="-4.8" y="9.3" font-size="32" textLength="45.0" lengthAdjust="spacingAndGlyphs">cm</text></g>
<g transform="translate(208.1,901.0) rotate(90)"><text x="-32.0" y="9.3" font-size="30" font-weight="bold" stroke="#000" stroke-width="0.7" textLength="19.0" lengthAdjust="spacingAndGlyphs">8</text><text x="-13.0" y="9.3" font-size="32" textLength="45.0" lengthAdjust="spacingAndGlyphs">cm</text></g>
<g transform="translate(258.1,930.5) rotate(90)"><text x="-41.1" y="9.3" font-size="30" font-weight="bold" stroke="#000" stroke-width="0.7" textLength="37.2" lengthAdjust="spacingAndGlyphs">21</text><text x="-3.9" y="9.3" font-size="32" textLength="45.0" lengthAdjust="spacingAndGlyphs">cm</text></g>
<g transform="translate(312.3,893.8) rotate(-35.1)"><text x="-41.0" y="9.3" font-size="30" font-weight="bold" stroke="#000" stroke-width="0.7" textLength="37.0" lengthAdjust="spacingAndGlyphs">46</text><text x="-4.0" y="9.3" font-size="32" textLength="45.0" lengthAdjust="spacingAndGlyphs">cm</text></g>
<g transform="translate(1066.7,820.9) rotate(-19.1)"><text x="-41.1" y="9.3" font-size="30" font-weight="bold" stroke="#000" stroke-width="0.7" textLength="37.3" lengthAdjust="spacingAndGlyphs">85</text><text x="-3.9" y="9.3" font-size="32" textLength="45.0" lengthAdjust="spacingAndGlyphs">cm</text></g>
<g transform="translate(1188.0,808.6) rotate(8.9)"><text x="-40.5" y="9.3" font-size="30" font-weight="bold" stroke="#000" stroke-width="0.7" textLength="35.9" lengthAdjust="spacingAndGlyphs">28</text><text x="-4.5" y="9.3" font-size="32" textLength="45.0" lengthAdjust="spacingAndGlyphs">cm</text></g>
<g transform="translate(1088.0,895.9) rotate(90)"><text x="-30.6" y="9.3" font-size="30" font-weight="bold" stroke="#000" stroke-width="0.7" textLength="16.3" lengthAdjust="spacingAndGlyphs">8</text><text x="-14.4" y="9.3" font-size="32" textLength="45.0" lengthAdjust="spacingAndGlyphs">cm</text></g>
<g transform="translate(1144.5,894.7) rotate(90)"><text x="-40.7" y="9.3" font-size="30" font-weight="bold" stroke="#000" stroke-width="0.7" textLength="36.4" lengthAdjust="spacingAndGlyphs">20</text><text x="-4.3" y="9.3" font-size="32" textLength="45.0" lengthAdjust="spacingAndGlyphs">cm</text></g>
<g transform="translate(1204.8,892.3) rotate(-18.3)"><text x="-39.4" y="9.3" font-size="30" font-weight="bold" stroke="#000" stroke-width="0.7" textLength="33.8" lengthAdjust="spacingAndGlyphs">88</text><text x="-5.6" y="9.3" font-size="32" textLength="45.0" lengthAdjust="spacingAndGlyphs">cm</text></g>
</svg></body></html>
